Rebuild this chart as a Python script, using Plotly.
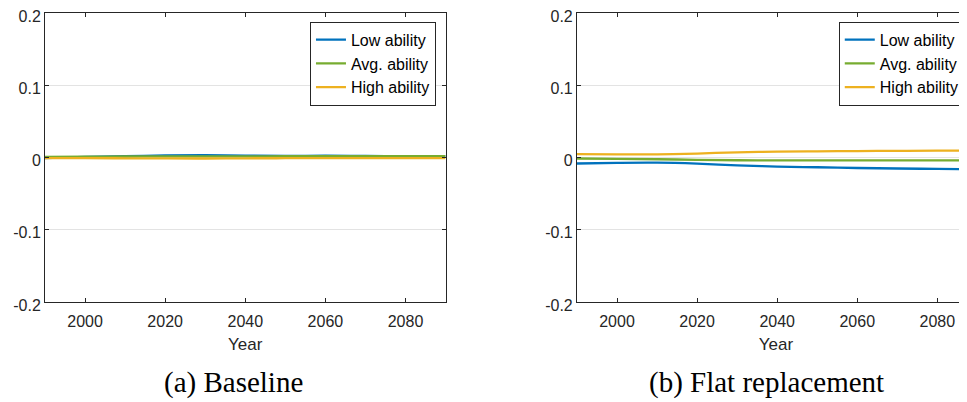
import plotly.graph_objects as go

# Data
years = [1990, 2000, 2010, 2020, 2030, 2040, 2050, 2060, 2070, 2080, 2090]

# (a) Baseline
base_low = [-0.0008, 0.0008, 0.0018, 0.0028, 0.0032, 0.0026, 0.0022, 0.0024, 0.0021, 0.0019, 0.0019]
base_avg = [0.0010, 0.0012, 0.0014, 0.0016, 0.0016, 0.0016, 0.0017, 0.0017, 0.0018, 0.0018, 0.0018]
base_high = [-0.0008, -0.0009, -0.0011, -0.0013, -0.0014, -0.0011, -0.0010, -0.0010, -0.0010, -0.0010, -0.0010]

# (b) Flat replacement
flat_low = [-0.0083, -0.0074, -0.0072, -0.0085, -0.0108, -0.0125, -0.0135, -0.0145, -0.0152, -0.0158, -0.0164]
flat_avg = [-0.0014, -0.0018, -0.0024, -0.0032, -0.0038, -0.0040, -0.0041, -0.0041, -0.0041, -0.0041, -0.0041]
flat_high = [0.0046, 0.0043, 0.0044, 0.0055, 0.0072, 0.0080, 0.0085, 0.0089, 0.0092, 0.0095, 0.0097]

series_names = ['Low ability', 'Avg. ability', 'High ability']
colors = ['#0072BD', '#77AC30', '#EDB120']

y_ticks = [-0.2, -0.1, 0, 0.1, 0.2]
y_ticktext = ['-0.2', '-0.1', '0', '0.1', '0.2']
x_ticks = [2000, 2020, 2040, 2060, 2080]

fig = go.Figure()

for name, vals, col in zip(series_names, [base_low, base_avg, base_high], colors):
    fig.add_trace(go.Scatter(x=years, y=vals, name=name, mode='lines',
                             line=dict(color=col, width=2.3, shape='spline'),
                             xaxis='x', yaxis='y', legend='legend'))

for name, vals, col in zip(series_names, [flat_low, flat_avg, flat_high], colors):
    fig.add_trace(go.Scatter(x=years, y=vals, name=name, mode='lines',
                             line=dict(color=col, width=2.3, shape='spline'),
                             xaxis='x2', yaxis='y2', legend='legend2'))

sans = 'Liberation Sans, Arial, sans-serif'
tick_font = dict(family=sans, size=16, color='#262626')

xcommon = dict(tickvals=x_ticks, ticks='inside', ticklen=4, tickcolor='#262626',
               showline=True, linecolor='#262626', linewidth=1, showgrid=False,
               zeroline=False, tickfont=tick_font, ticklabelstandoff=5,
               title=dict(text='Year', font=dict(family=sans, size=17, color='#262626'),
                          standoff=8))
ycommon = dict(range=[-0.2, 0.2], tickvals=y_ticks, ticktext=y_ticktext, ticks='inside',
               ticklen=4, tickcolor='#262626', showline=True, linecolor='#262626',
               linewidth=1, showgrid=True, gridcolor='#e3e3e3', gridwidth=1,
               zeroline=False, tickfont=tick_font, ticklabeloverflow='allow',
               ticklabelshift=3)

legend_style = dict(bgcolor='white', bordercolor='#262626', borderwidth=1,
                    font=dict(family=sans, size=16, color='#000000'),
                    xanchor='right', yanchor='top', tracegroupgap=0, itemwidth=30)

# the page puts the figure 8px in from the top-left corner
fig.update_layout(
    width=967, height=402,
    margin=dict(l=37, r=0, t=5, b=108, autoexpand=False),
    plot_bgcolor='white', paper_bgcolor='white',
    xaxis=dict(domain=[0, 0.4307], range=[1990, 2090], anchor='y', mirror='ticks', **xcommon),
    yaxis=dict(domain=[0, 1], anchor='x', mirror='ticks', **ycommon),
    xaxis2=dict(domain=[0.572, 1.0], range=[1990, 2089.4], anchor='y2', mirror='ticks', **xcommon),
    yaxis2=dict(domain=[0, 1], anchor='x2', mirror=False, **ycommon),
    legend=dict(x=0.4204, y=0.970, **legend_style),
    legend2=dict(x=0.989, y=0.970, **legend_style),
    showlegend=True,
)

subtitle_font = dict(family='Liberation Serif, DejaVu Serif, serif', size=29, color='#000000')
fig.add_annotation(text='(a) Baseline', xref='paper', yref='paper', x=0.2022, y=-0.280,
                   showarrow=False, xanchor='center', yanchor='middle', font=subtitle_font)
fig.add_annotation(text='(b) Flat replacement', xref='paper', yref='paper', x=0.776, y=-0.280,
                   showarrow=False, xanchor='center', yanchor='middle', font=subtitle_font)

fig.write_html('out.html')
